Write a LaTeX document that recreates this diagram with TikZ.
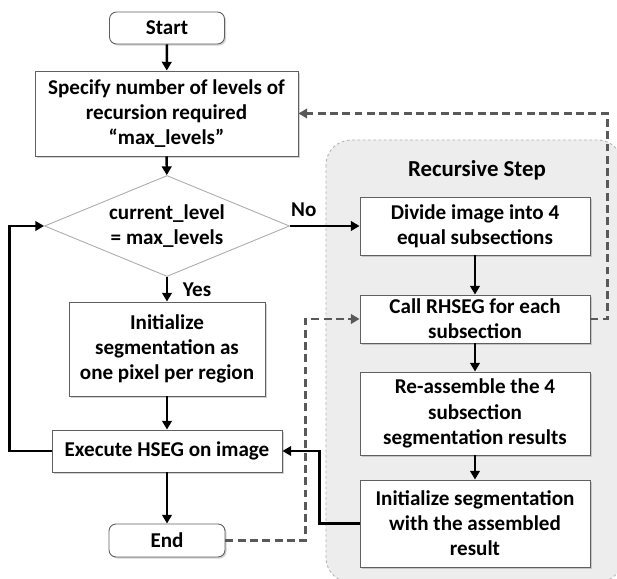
\documentclass[tikz,border=0pt]{standalone}
\usepackage{fontspec}
\setmainfont{Carlito}
\usetikzlibrary{arrows.meta,shapes.geometric,shadows}

\begin{document}
\begin{tikzpicture}[
  box/.style={draw=gray!75!black, fill=white, line width=0.5pt, align=center, inner sep=2pt,
    font=\fontsize{12}{14.3}\selectfont\bfseries,
    drop shadow={shadow xshift=0.9pt,shadow yshift=-0.9pt,opacity=0.35}},
  term/.style={box, rounded corners=4pt},
  decision/.style={diamond, shape aspect=2.43, draw=gray!65, fill=white, line width=0.5pt, align=center, inner sep=0pt,
    font=\fontsize{12}{14.3}\selectfont\bfseries},
  flow/.style={line width=1.4pt, -{Triangle[length=5pt,width=5.5pt]}},
  back/.style={line width=1.3pt, gray!70!black, dash pattern=on 4.5pt off 2.5pt, -{Triangle[length=5pt,width=5.5pt]}},
  lbl/.style={font=\fontsize{12}{14.3}\selectfont\bfseries}
]
\clip (0,0) rectangle (12.34,-11.58);
\useasboundingbox (0,0) rectangle (12.34,-11.58);

% recursive step panel
\draw[gray!60, line width=0.5pt, dash pattern=on 1.5pt off 1.5pt, fill=gray!14, rounded corners=0.5cm]
  (6.52,-2.8) rectangle (12.45,-11.65);
\node[lbl, font=\fontsize{13}{15}\selectfont\bfseries] (title) at (9.54,-3.4) {Recursive Step};

% main column
\node[term, minimum width=2.3cm, minimum height=0.64cm] (start) at (3.34,-0.56) {Start};
\node[box, minimum width=5.26cm, minimum height=1.7cm] (spec) at (3.33,-2.27)
  {Specify number of levels of\\recursion required\\“max\_levels”};
\node[decision, minimum width=4.9cm, minimum height=2.02cm] (cond) at (3.34,-4.52)
  {current\_level\\= max\_levels};
\node[box, minimum width=3.92cm, minimum height=1.88cm] (initone) at (3.34,-6.98)
  {Initialize\\segmentation as\\one pixel per region};
\node[box, minimum width=4.6cm, minimum height=0.84cm] (exec) at (3.34,-9.02) {Execute HSEG on image};
\node[term, minimum width=2.32cm, minimum height=0.66cm] (finish) at (3.34,-10.81) {End};

% recursive column
\node[box, minimum width=4.6cm, minimum height=1.16cm] (divide) at (9.5,-4.52)
  {Divide image into 4\\equal subsections};
\node[box, minimum width=4.6cm, minimum height=0.96cm] (call) at (9.5,-6.38)
  {Call RHSEG for each\\subsection};
\node[box, minimum width=4.6cm, minimum height=1.66cm] (reasm) at (9.5,-8.27)
  {Re-assemble the 4\\subsection\\segmentation results};
\node[box, minimum width=4.6cm, minimum height=1.74cm] (initall) at (9.5,-10.47)
  {Initialize segmentation\\with the assembled\\result};

% connectors
\draw[flow] (start) -- (spec);
\draw[flow] (spec) -- (cond);
\draw[flow] (cond.east) -- node[lbl, pos=0.2, above=1pt] {No} (divide.west);
\draw[flow] (cond.south) -- node[lbl, right=5pt] {Yes} (initone.north);
\draw[flow] (initone) -- (exec);
\draw[flow] (exec) -- (finish);
\draw[flow] (exec.west) -- ++(-0.84,0) |- (cond.west);
\draw[flow] (divide) -- (call);
\draw[flow] (call) -- (reasm);
\draw[flow] (reasm) -- (initall);
\draw[flow] (initall.west) -- ++(-0.8,0) |- (exec.east);
\draw[back] (call.east) -- ++(0.34,0) |- (spec.east);
\draw[back] (finish.east) -- ++(1.6,0) |- (call.west);
\end{tikzpicture}
\end{document}
